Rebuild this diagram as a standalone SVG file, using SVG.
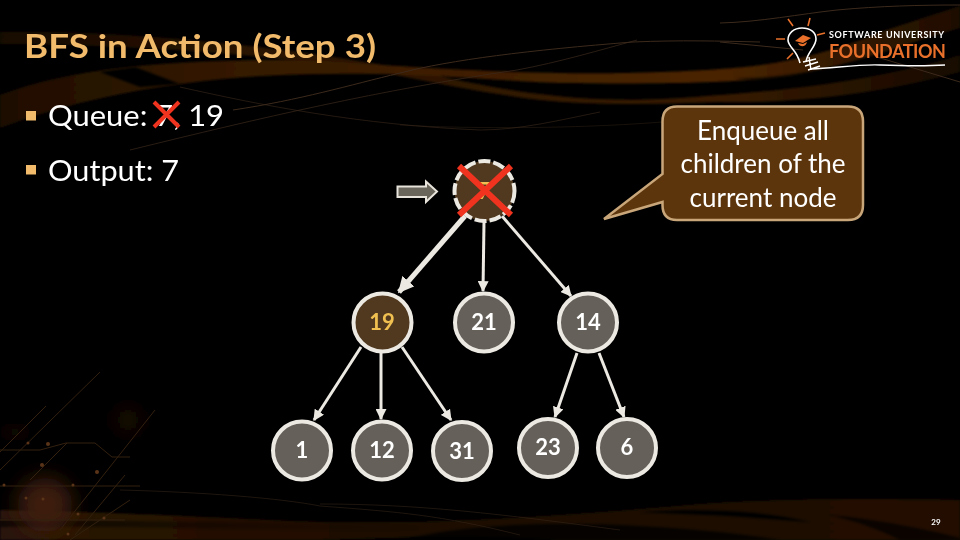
<svg xmlns="http://www.w3.org/2000/svg" width="960" height="540" viewBox="0 0 960 540">
<defs>
<style>
text{font-family:Lato,"Liberation Sans",sans-serif}
.b{fill:#fff;font-size:29px}
.c{fill:#fff;font-size:26px;text-anchor:middle}
.n{fill:#fff;font-size:22px;font-weight:700;text-anchor:middle}
.node{fill:#65615a;stroke:#ece9e2;stroke-width:4}
.con{stroke:#ece9e2;stroke-width:3;fill:none;marker-end:url(#ah)}
.x{stroke:#f0331f;fill:none}
.ln{fill:none;stroke:#3c2a1c;stroke-width:1}
.d{stroke:#33200f}
</style>
<marker id="ah" markerUnits="userSpaceOnUse" markerWidth="11" markerHeight="11" refX="9" refY="5" orient="auto" viewBox="0 0 10 10"><path d="M0 0L10 5L0 10z" fill="#ece9e2"/></marker>
<marker id="ah2" markerUnits="userSpaceOnUse" markerWidth="16" markerHeight="16" refX="9" refY="5" orient="auto" viewBox="0 0 10 10"><path d="M0 0L10 5L0 10z" fill="#ece9e2"/></marker>
<linearGradient id="g1" x1="0" x2="960" y1="0" y2="0" gradientUnits="userSpaceOnUse"><stop offset="0" stop-color="#1e0e04"/><stop offset=".25" stop-color="#351a06"/><stop offset=".75" stop-color="#4a2406"/><stop offset="1" stop-color="#1e0e04"/></linearGradient>
<linearGradient id="g2" x1="0" x2="960" y1="0" y2="0" gradientUnits="userSpaceOnUse"><stop offset="0" stop-color="#2c1507"/><stop offset=".45" stop-color="#1c0d05"/><stop offset="1" stop-color="#211005"/></linearGradient>
<linearGradient id="g3" x1="0" x2="420" y1="0" y2="0" gradientUnits="userSpaceOnUse"><stop offset="0" stop-color="#000" stop-opacity=".6"/><stop offset="1" stop-color="#000" stop-opacity="0"/></linearGradient>
<filter id="bl" x="-5%" y="-30%" width="110%" height="160%"><feGaussianBlur stdDeviation="1.200"/></filter>
<filter id="bl2" x="-80%" y="-80%" width="260%" height="260%"><feGaussianBlur stdDeviation="10"/></filter>
</defs>
<rect width="960" height="540" fill="#000"/>
<g id="background">
<g filter="url(#bl)">
<path fill="url(#g1)" d="M0 95C70 68 170 60 280 60C320 60 360 64 400 66C460 70 510 72 560 73C620 74 680 72 720 69C780 66 840 50 880 32L960 6V28C900 46 850 66 790 76C730 84 640 84 560 83C480 80 420 72 330 74C220 74 100 90 0 128z"/>
<path fill="url(#g1)" opacity=".75" d="M0 32C120 30 280 46 400 68C450 78 520 96 600 99C650 101 680 98 720 95C790 90 880 80 960 55V72C880 94 790 104 720 102C660 104 600 106 540 100C490 94 440 84 390 74C280 54 120 44 0 44z"/>
<path fill="url(#g2)" d="M0 510C130 512 250 520 320 522C450 524 560 516 700 504C770 499 860 498 960 500V540H560C470 534 400 538 320 540H0z"/>
</g>
<g fill="#000" filter="url(#bl)">
<path d="M100 72L135 67L180 84L140 87z"/>
<path d="M735 78C790 78 850 66 905 45L960 30V48C880 70 800 92 735 78z" opacity=".5"/>
<path d="M400 540C460 526 520 522 620 525C680 528 730 532 780 540z" opacity=".8"/>
<path d="M640 512C700 508 760 510 810 522L730 516z"/>
<path d="M830 515C880 520 930 530 960 538V540H900C880 530 860 522 830 515z" opacity=".7"/>
<path fill="url(#g3)" d="M0 527C100 526 220 530 420 530V526C220 522 100 520 0 520z"/>
</g>
<g>
<path class="ln" opacity=".6" d="M180 87C260 105 360 125 480 130C520 130 560 120 600 112"/>
<path class="ln" opacity=".7" d="M130 150C260 118 380 90 517 70C560 62 600 50 637 40"/>
<path class="ln" d="M233 110C300 100 350 85 400 73C450 60 530 50 633 42C680 40 720 41 760 42"/>
<path class="ln" d="M720 42L803 50M720 23C760 22 800 14 837 10C880 6 920 5 960 5M877 57L960 82"/>
<path class="ln" opacity=".4" d="M400 125C450 128 560 130 662 122"/>
<path class="ln" opacity=".5" d="M120 490C200 492 280 498 320 506C400 512 440 515 520 535M320 504C420 504 500 514 620 530"/>
</g>
<g>
<circle cx="128" cy="420" r="12" fill="#241004" filter="url(#bl2)"/>
<circle cx="45" cy="505" r="28" fill="#3c1c07" filter="url(#bl2)"/>
<circle cx="15" cy="432" r="10" fill="#180b03" filter="url(#bl2)"/>
<g fill="none" class="d" stroke-width="1">
<path d="M100 372L0 470M46 406L0 452M155 410L60 530M130 500L70 540M125 475L75 535"/>
<path d="M0 450H40L66 443H95L112 457H130M0 486H140M0 520H125M67 443L30 480"/>
</g>
<g fill="#5a3418">
<circle cx="48" cy="444" r="2"/><circle cx="28" cy="443" r="1.500"/><circle cx="97" cy="472" r="2"/><circle cx="42" cy="465" r="2"/><circle cx="73" cy="485" r="1.500"/><circle cx="26" cy="498" r="1.500"/><circle cx="43" cy="499" r="1.500"/><circle cx="4" cy="485" r="1.500"/><circle cx="104" cy="518" r="1.500"/><circle cx="68" cy="534" r="1.500"/><circle cx="78" cy="514" r="1.500"/>
</g>
</g>
</g>
<text x="24" y="58" font-size="33" font-weight="700" fill="#f2bb6b" textLength="352" lengthAdjust="spacingAndGlyphs">BFS in Action (Step 3)</text>
<g id="logo">
<g fill="none" stroke="#e8702a" stroke-width="1.600">
<path d="M788 19L793 26M810 18L808 26M776 39H785M817 35L825 33M787 59L793 53"/>
</g>
<path d="M806 62C807 52 816 47 816 39C816 32 810 28 802 28C794 28 788 33 788 40C788 47 797 50 800 63" fill="none" stroke="#fff" stroke-width="1.600"/>
<path d="M795 41L803 35L811 38L803 43z" fill="#e8702a"/><path d="M798 43C800 48 806 47 807 42L803 44z" fill="#e8702a"/>
<path d="M809 57L811 70M803 62L816 59M805 66L818 62M808 70L820 66M811 69C835 68 860 64 880 65C905 66 930 66 945 65" fill="none" stroke="#fff" stroke-width="1.400"/>
<text x="829" y="37.500" font-size="9" font-weight="700" fill="#fff" letter-spacing=".65">SOFTWARE UNIVERSITY</text>
<text x="829" y="58" font-size="18" font-weight="700" fill="#e8702a" letter-spacing="-.45">FOUNDATION</text>
</g>
<g id="list">
<rect x="26" y="111" width="10" height="9.500" fill="#f2bb6b"/>
<rect x="26" y="165" width="10" height="9.500" fill="#f2bb6b"/>
<text class="b" x="48" y="126" textLength="176" lengthAdjust="spacingAndGlyphs">Queue: 7, 19</text>
<text class="b" x="48" y="181" textLength="131" lengthAdjust="spacingAndGlyphs">Output: 7</text>
<path class="x" stroke-width="4" d="M154 102L179 127M179 102L154 127"/>
</g>
<g id="connectors">
<path class="con" style="stroke-width:5;marker-end:url(#ah2)" d="M465 216L399 292"/>
<path class="con" d="M484 222L483 291"/>
<path class="con" d="M502 216L571 296"/>
<path class="con" d="M361 347L314 420"/>
<path class="con" d="M381 353V419"/>
<path class="con" d="M402 347L451 420"/>
<path class="con" d="M577 353L555 417"/>
<path class="con" d="M599 353L624 417"/>
</g>
<g id="pointer"><path d="M397.500 186.500H426V181.500L437 191.500L426 202V197H397.500z" fill="#6b665c" stroke="#e8e4dc" stroke-width="2"/></g>
<g id="node-7">
<circle cx="484.500" cy="191" r="30" fill="#50391f" stroke="#ece9e2" stroke-width="4" stroke-dasharray="12 3"/>
<text class="n" x="484" y="199" style="fill:#f0c050">7</text>
<path class="x" stroke-width="6" d="M459 166L511 215M511 166L459 215"/>
</g>
<g id="node-19"><circle cx="382.500" cy="322.500" r="29" fill="#50391f" stroke="#ece9e2" stroke-width="4"/><text class="n" x="382" y="330" style="fill:#f0c050">19</text></g>
<g id="node-21"><circle class="node" cx="484" cy="322.500" r="29"/><text class="n" x="484" y="330">21</text></g>
<g id="node-14"><circle class="node" cx="588" cy="322.500" r="29"/><text class="n" x="588" y="330">14</text></g>
<g id="node-1"><circle class="node" cx="302" cy="450.500" r="29"/><text class="n" x="302" y="458">1</text></g>
<g id="node-12"><circle class="node" cx="382" cy="450.500" r="29"/><text class="n" x="382" y="458">12</text></g>
<g id="node-31"><circle class="node" cx="462" cy="451" r="29"/><text class="n" x="462" y="459">31</text></g>
<g id="node-23"><circle class="node" cx="548" cy="448" r="29"/><text class="n" x="548" y="455">23</text></g>
<g id="node-6"><circle class="node" cx="627" cy="448" r="29"/><text class="n" x="627" y="455">6</text></g>
<g id="callout">
<path d="M677 106.500H848Q863 106.500 863 121.500V205Q863 220 848 220H677Q662.500 220 662.500 205V202L604 219L662.500 174V121.500Q662.500 106.500 677 106.500z" fill="#5c350d" stroke="#c9a679" stroke-width="2.500"/>
<text class="c" x="763" y="140">Enqueue all</text>
<text class="c" x="763" y="173">children of the</text>
<text class="c" x="763" y="207">current node</text>
</g>
<text x="936" y="525" font-size="8" font-weight="700" fill="#fff" text-anchor="middle">29</text>
</svg>
